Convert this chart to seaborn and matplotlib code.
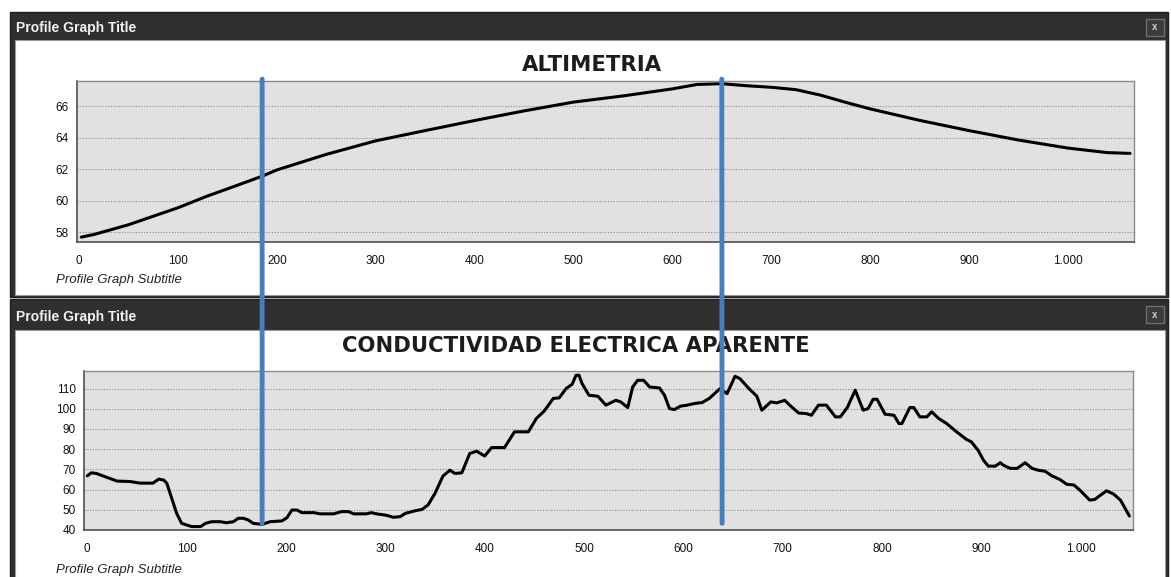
import matplotlib
matplotlib.use("Agg")
import matplotlib.pyplot as plt
from matplotlib.patches import Rectangle, ConnectionPatch
import seaborn as sns
import pandas as pd

# altimetria profile (distance, elevation)
alt_dist = [2, 15, 50, 100, 130, 150, 185, 200, 250, 300, 350, 400, 450, 500, 550,
            600, 625, 650, 675, 700, 725, 750, 775, 800, 850, 900, 950, 1000, 1040, 1063]
alt_elev = [57.68, 57.85, 58.47, 59.55, 60.3, 60.75, 61.55, 61.95, 62.94, 63.8, 64.45,
            65.09, 65.7, 66.26, 66.65, 67.1, 67.38, 67.43, 67.3, 67.2, 67.05, 66.7,
            66.25, 65.83, 65.1, 64.45, 63.85, 63.34, 63.05, 63.0]

# conductividad electrica aparente profile
ce_dist = [0, 4, 9, 23, 30, 43, 53, 66, 72, 77, 80, 85, 90, 95, 100, 105, 114, 119, 125,
           134, 140, 147, 152, 157, 162, 167, 176, 184, 196, 201, 206, 211, 216, 228,
           234, 248, 256, 263, 268, 281, 286, 291, 301, 308, 315, 320, 329, 337, 343,
           350, 358, 365, 370, 377, 385, 392, 400, 407, 420, 430, 444, 452, 460, 469,
           475, 482, 488, 492, 495, 498, 505, 514, 522, 532, 537, 544, 549, 554, 560,
           566, 576, 581, 586, 591, 597, 604, 611, 619, 626, 632, 637, 644, 652, 657,
           666, 674, 679, 688, 694, 702, 707, 716, 724, 729, 736, 744, 753, 758, 765,
           773, 781, 786, 791, 795, 803, 812, 817, 820, 828, 832, 838, 845, 850, 857,
           865, 875, 885, 890, 897, 902, 907, 914, 919, 922, 929, 936, 944, 951, 957,
           964, 971, 979, 986, 993, 999, 1009, 1014, 1026, 1033, 1040, 1049]
ce_vals = [66.8, 68.3, 68.0, 65.5, 64.2, 64.0, 63.2, 63.2, 65.2, 64.7, 63.2, 55.7, 48.2,
           43.3, 42.5, 41.7, 41.7, 43.3, 44.1, 44.1, 43.6, 44.1, 45.8, 45.8, 45.0, 43.3,
           42.8, 44.1, 44.5, 46.1, 49.9, 49.9, 48.6, 48.6, 48.0, 48.0, 49.1, 49.1, 48.0,
           48.0, 48.6, 48.0, 47.3, 46.3, 46.6, 48.2, 49.4, 50.2, 52.4, 58.1, 66.7, 69.6,
           68.0, 68.3, 77.9, 79.0, 76.6, 80.8, 80.8, 88.6, 88.6, 95.2, 98.9, 105.1, 105.4,
           110.0, 112.1, 116.6, 116.6, 112.5, 106.7, 106.2, 101.8, 104.2, 103.4, 100.6,
           110.8, 114.1, 114.1, 110.8, 110.3, 106.7, 100.1, 99.6, 101.3, 101.8, 102.6,
           103.1, 105.1, 107.8, 110.0, 107.5, 116.1, 114.9, 110.0, 106.2, 99.3, 103.4,
           102.9, 104.2, 101.8, 97.9, 97.6, 96.8, 101.8, 101.8, 96.0, 96.0, 100.6, 109.2,
           99.3, 100.1, 104.7, 104.7, 97.3, 96.8, 92.7, 92.7, 100.6, 100.6, 96.0, 96.0,
           98.5, 95.2, 92.7, 88.6, 84.8, 83.6, 79.2, 74.6, 71.6, 71.6, 73.3, 72.1, 70.5,
           70.5, 73.3, 70.5, 69.6, 69.1, 66.8, 65.0, 62.6, 62.3, 59.8, 54.8, 55.1, 59.4,
           57.8, 54.8, 46.9]

x_ticks = [0, 100, 200, 300, 400, 500, 600, 700, 800, 900, 1000]
x_tick_labels = ["0", "100", "200", "300", "400", "500", "600", "700", "800", "900", "1.000"]
alt_yticks = [58, 60, 62, 64, 66]
ce_yticks = [40, 50, 60, 70, 80, 90, 100, 110]

# blue marker lines: (x in top graph, x in bottom graph)
marker_top_x = [185, 650]
marker_bottom_x = [176, 639]

W, H = 1171, 577
sns.set_style("white")
plt.rcParams["font.family"] = ["Liberation Sans", "DejaVu Sans"]

fig = plt.figure(figsize=(W / 100, H / 100), dpi=100)
fig.patch.set_facecolor("white")


def px_rect(x0, y0, x1, y1, **kw):
    r = Rectangle((x0 / W, 1 - y1 / H), (x1 - x0) / W, (y1 - y0) / H,
                  transform=fig.transFigure, **kw)
    fig.add_artist(r)


def px_text(x, y, s, **kw):
    fig.text(x / W, 1 - y / H, s, **kw)


def px_axes(x0, y0, x1, y1):
    return fig.add_axes([x0 / W, 1 - y1 / H, (x1 - x0) / W, (y1 - y0) / H])


# window chrome
for top, bar_bot, bot in [(12, 40, 297), (299, 330, 580)]:
    px_rect(10, top, 1168, bot, facecolor="#2f2f2f", edgecolor="#1e1e1e", lw=1, zorder=-3)
    px_rect(15, bar_bot, 1165, bot - 2 if bot < H else bot, facecolor="white",
            edgecolor="#9a9a9a", lw=0.8, zorder=-2)
    px_text(16, (top + bar_bot) / 2 + 2, "Profile Graph Title", color="#f2f2f2",
            fontsize=10, fontweight="bold", va="center", ha="left", zorder=-1)
    px_rect(1146, top + 7, 1164, top + 24, facecolor="#3b3b3b", edgecolor="#6e6e6e",
            lw=1, zorder=-1)
    px_text(1155, top + 15.5, "x", color="#cfcfcf", fontsize=7, fontweight="bold",
            ha="center", va="center", zorder=-1)


def style_axes(ax, yticks, ylim, xlim):
    ax.set_facecolor("#e1e1e1")
    ax.set_xlim(xlim)
    ax.set_ylim(ylim)
    ax.set_xticks(x_ticks)
    ax.set_xticklabels(x_tick_labels)
    ax.set_yticks(yticks)
    ax.set_yticklabels([str(v) for v in yticks])
    ax.tick_params(axis="both", direction="out", length=4, width=1, color="#333333",
                   labelsize=8.5, labelcolor="#111111")
    ax.tick_params(axis="y", pad=2)
    ax.tick_params(axis="x", pad=5)
    ax.yaxis.grid(True, color="#8c8c8c", lw=0.8, linestyle=(0, (1, 1.5)))
    ax.xaxis.grid(False)
    ax.set_axisbelow(True)
    for side in ["left", "bottom"]:
        ax.spines[side].set_color("#505050")
        ax.spines[side].set_linewidth(1.2)
    for side in ["top", "right"]:
        ax.spines[side].set_color("#8a8a8a")
        ax.spines[side].set_linewidth(1)
    ax.set_xlabel("")
    ax.set_ylabel("")


alt_df = pd.DataFrame({"dist": alt_dist, "elev": alt_elev})
ce_df = pd.DataFrame({"dist": ce_dist, "ce": ce_vals})

ax1 = px_axes(77, 81, 1134, 242)
sns.lineplot(data=alt_df, x="dist", y="elev", ax=ax1, color="black", lw=2.2)
style_axes(ax1, alt_yticks, (57.37, 67.6), (-2.3, 1067))

ax2 = px_axes(84, 371, 1133, 530)
sns.lineplot(data=ce_df, x="dist", y="ce", ax=ax2, color="black", lw=2.2)
style_axes(ax2, ce_yticks, (40, 118.7), (-3.3, 1052.6))

# titles and subtitles
px_text(592, 71, "ALTIMETRIA", fontsize=15.3, fontweight="bold", color="#1c1c1c",
        family="DejaVu Sans", ha="center", va="baseline")
px_text(576, 352, "CONDUCTIVIDAD ELECTRICA APARENTE", fontsize=15.2, fontweight="bold",
        color="#1c1c1c", family="DejaVu Sans", ha="center", va="baseline")
px_text(56, 283, "Profile Graph Subtitle", fontsize=9.5, style="italic",
        color="#222222", ha="left", va="baseline")
px_text(56, 573, "Profile Graph Subtitle", fontsize=9.5, style="italic",
        color="#222222", ha="left", va="baseline")

# vertical blue marker lines joining both graphs
for xt, xb in zip(marker_top_x, marker_bottom_x):
    con = ConnectionPatch(xyA=(xt, 67.72), coordsA=ax1.transData,
                          xyB=(xb, 43.3), coordsB=ax2.transData,
                          color="#4a7ebb", lw=3.5, zorder=10)
    fig.add_artist(con)

fig.savefig("out.png", dpi=100, facecolor="white")
